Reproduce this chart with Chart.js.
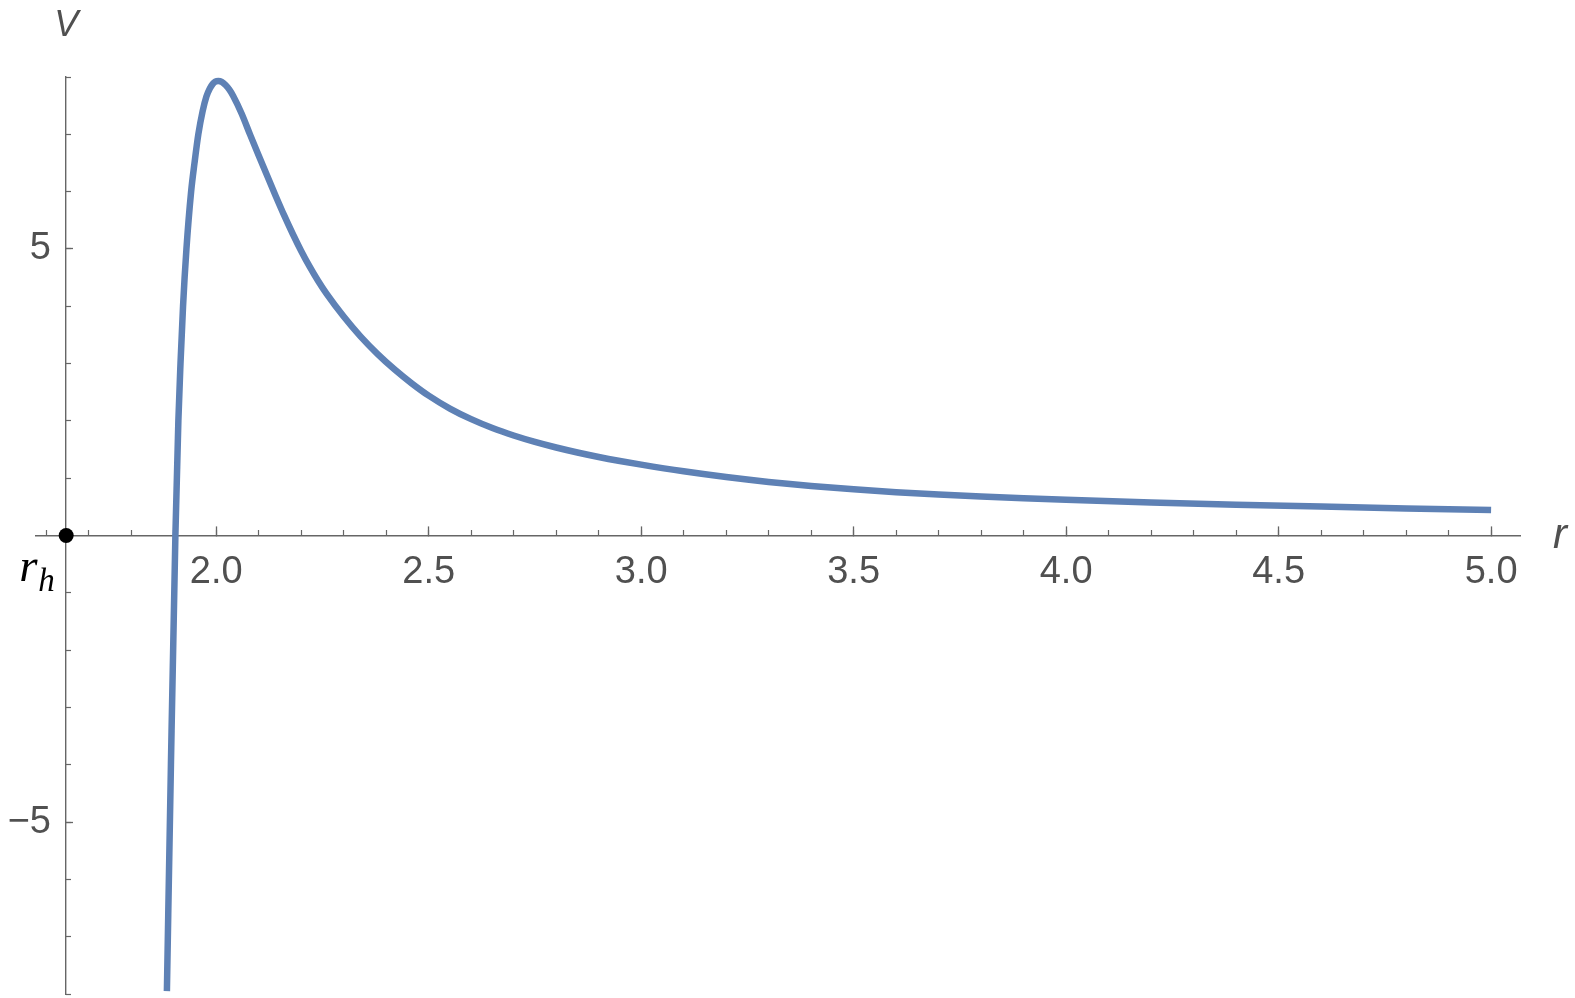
<!DOCTYPE html>
<html lang="en">
<head>
    <meta charset="UTF-8">
    <title>Potential V(r)</title>
    <script src="https://cdn.jsdelivr.net/npm/chart.js"></script>
    <style>
        body { margin: 0; background: #fff; }
        canvas { display: block; }
    </style>
</head>
<body>
<canvas id="potentialChart" width="1575" height="998"></canvas>
<script>
    // curve: r on the x axis, V on the y axis
    const rValues = [1.884, 1.8935, 1.904, 1.911, 1.916, 1.922, 1.930, 1.941, 1.949, 1.958,
        1.968, 1.977, 1.985, 1.992, 1.998, 2.005, 2.013, 2.022, 2.031, 2.040,
        2.060, 2.080, 2.100, 2.120, 2.140, 2.160, 2.180, 2.200, 2.220, 2.240,
        2.260, 2.300, 2.340, 2.380, 2.420, 2.460, 2.500, 2.550, 2.600, 2.650,
        2.700, 2.750, 2.800, 2.850, 2.900, 2.950, 3.000, 3.100, 3.200, 3.300,
        3.400, 3.500, 3.600, 3.700, 3.800, 3.900, 4.000, 4.200, 4.400, 4.600,
        4.800, 5.000];
    const vValues = [-7.95, -4.00, 0.00, 2.00, 3.00, 4.00, 5.00, 6.00, 6.50, 7.00,
        7.40, 7.66, 7.80, 7.88, 7.92, 7.93, 7.915, 7.86, 7.78, 7.67,
        7.36, 6.99, 6.63, 6.275, 5.925, 5.585, 5.265, 4.965, 4.69, 4.44,
        4.215, 3.82, 3.47, 3.165, 2.895, 2.655, 2.44, 2.215, 2.03, 1.875,
        1.745, 1.633, 1.535, 1.448, 1.37, 1.30, 1.236, 1.12, 1.02, 0.935,
        0.864, 0.805, 0.756, 0.715, 0.68, 0.65, 0.623, 0.577, 0.538, 0.504,
        0.473, 0.444];

    // horizon marker r_h, sits where the axes cross
    const horizonR = [1.647];
    const horizonV = [0];

    const xRange = [1.576, 5.068];
    const yRange = [-8, 8];

    const xMajorTicks = [2.0, 2.5, 3.0, 3.5, 4.0, 4.5, 5.0];
    const xTickLabels = ['2.0', '2.5', '3.0', '3.5', '4.0', '4.5', '5.0'];
    const yMajorTicks = [-5, 5];
    const yTickLabels = ['\u22125\u2009\u2009', '5\u2009\u2009'];

    const axisGray = '#666666';
    const labelGray = '#505050';
    const curveBlue = 'rgb(94, 129, 181)';
    const sans = '"Liberation Sans", Arial, sans-serif';
    const serif = '"Liberation Serif", "Times New Roman", serif';

    const axisLabels = {
        id: 'axisLabels',
        afterDraw(chart) {
            const { ctx, scales: { x, y } } = chart;
            const ax = x.getPixelForValue(horizonR[0]);
            const ay = y.getPixelForValue(0);
            ctx.save();
            ctx.fillStyle = labelGray;
            ctx.textBaseline = 'alphabetic';
            ctx.textAlign = 'center';
            ctx.font = 'italic 36px ' + sans;
            ctx.fillText('V', ax, y.top - 41);
            ctx.textAlign = 'left';
            ctx.font = 'italic 42px ' + sans;
            ctx.fillText('r', x.right + 33, ay + 12);

            // r_h under the dot
            ctx.fillStyle = '#000';
            ctx.font = 'italic 47px ' + serif;
            ctx.fillText('r', ax - 47, ay + 45);
            ctx.font = 'italic 33px ' + serif;
            ctx.fillText('h', ax - 28, ay + 55);
            ctx.restore();
        }
    };

    const ctx = document.getElementById('potentialChart').getContext('2d');
    const chart = new Chart(ctx, {
        type: 'line',
        data: {
            datasets: [{
                label: 'V',
                data: rValues.map((r, i) => ({ x: r, y: vValues[i] })),
                borderColor: curveBlue,
                borderWidth: 6.5,
                borderCapStyle: 'butt',
                pointRadius: 0,
                cubicInterpolationMode: 'monotone',
                fill: false,
                order: 2
            }, {
                type: 'scatter',
                label: 'r_h',
                data: horizonR.map((r, i) => ({ x: r, y: horizonV[i] })),
                pointRadius: 7.5,
                backgroundColor: '#000',
                borderColor: '#000',
                borderWidth: 0,
                clip: false,
                order: 1
            }]
        },
        plugins: [axisLabels],
        options: {
            responsive: false,
            animation: false,
            events: [],
            layout: { autoPadding: false, padding: { left: 36, right: 55, top: 77, bottom: 4 } },
            plugins: { legend: { display: false }, tooltip: { enabled: false } },
            scales: {
                x: {
                    type: 'linear',
                    axis: 'x',
                    min: xRange[0],
                    max: xRange[1],
                    position: { y: 0 },
                    afterBuildTicks: (scale) => { scale.ticks = xMajorTicks.map(v => ({ value: v })); },
                    ticks: {
                        callback: (value, index) => xTickLabels[index],
                        color: labelGray,
                        font: { family: sans, size: 38 },
                        padding: 24,
                        autoSkip: false,
                        maxRotation: 0
                    },
                    grid: { drawOnChartArea: false, tickLength: -10, tickColor: axisGray, tickWidth: 1.3 },
                    border: { display: true, color: axisGray, width: 1.4 }
                },
                xMinor: {
                    type: 'linear',
                    axis: 'x',
                    min: xRange[0],
                    max: xRange[1],
                    position: { y: 0 },
                    ticks: { stepSize: 0.1, includeBounds: false, display: false, autoSkip: false },
                    grid: { drawOnChartArea: false, tickLength: -6, tickColor: axisGray, tickWidth: 1.2 },
                    border: { display: false }
                },
                y: {
                    type: 'linear',
                    axis: 'y',
                    min: yRange[0],
                    max: yRange[1],
                    position: { x: horizonR[0] },
                    afterBuildTicks: (scale) => { scale.ticks = yMajorTicks.map(v => ({ value: v })); },
                    ticks: {
                        callback: (value, index) => yTickLabels[index],
                        color: labelGray,
                        font: { family: sans, size: 38, lineHeight: 0.1 },
                        padding: 0,
                        autoSkip: false
                    },
                    grid: { drawOnChartArea: false, tickLength: -8, tickColor: axisGray, tickWidth: 1.3 },
                    border: { display: true, color: axisGray, width: 1.4 }
                },
                yMinor: {
                    type: 'linear',
                    axis: 'y',
                    min: yRange[0],
                    max: yRange[1],
                    position: { x: horizonR[0] },
                    ticks: { stepSize: 1, display: false, autoSkip: false },
                    grid: { drawOnChartArea: false, tickLength: -5, tickColor: axisGray, tickWidth: 1.2 },
                    border: { display: false }
                }
            }
        }
    });
</script>
</body>
</html>
